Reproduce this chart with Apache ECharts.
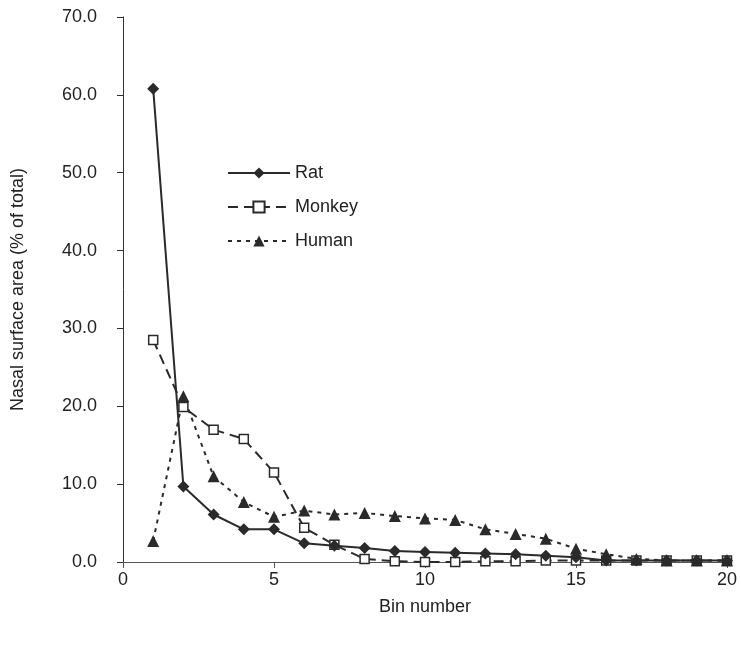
<!DOCTYPE html>
<html>
<head>
<meta charset="utf-8">
<script src="https://cdn.jsdelivr.net/npm/echarts@6/dist/echarts.min.js"></script>
<style>
  html, body { margin: 0; padding: 0; background: #fff; }
  #chart { width: 741px; height: 645px; }
</style>
</head>
<body>
<div id="chart"></div>
<script>
// bin numbers 1..20 and % of total nasal surface per bin
const bins = [1, 2, 3, 4, 5, 6, 7, 8, 9, 10, 11, 12, 13, 14, 15, 16, 17, 18, 19, 20]
const rat = [60.8, 9.7, 6.1, 4.2, 4.2, 2.4, 2.1, 1.8, 1.4, 1.3, 1.2, 1.1, 1.0, 0.8, 0.6, 0.2, 0.2, 0.2, 0.2, 0.2]
const monkey = [28.5, 19.9, 17.0, 15.8, 11.5, 4.4, 2.2, 0.4, 0.1, 0.0, 0.0, 0.1, 0.1, 0.2, 0.2, 0.2, 0.2, 0.2, 0.2, 0.2]
const human = [2.7, 21.3, 11.0, 7.7, 5.8, 6.6, 6.1, 6.3, 5.9, 5.6, 5.4, 4.2, 3.6, 3.0, 1.7, 1.0, 0.4, 0.2, 0.2, 0.2]
const xTicks = [0, 5, 10, 15, 20]
const yTicks = [0, 10, 20, 30, 40, 50, 60, 70]

const font = 'Liberation Sans, Arial, sans-serif'
const ink = '#222'

function pairs(vals) {
  return bins.map((b, i) => [b, vals[i]])
}

let chart = echarts.init(document.getElementById('chart'))
let option = {
  backgroundColor: '#fff',
  animation: false,
  grid: { left: 123, right: 14, top: 17, bottom: 83 },
  legend: {
    orient: 'vertical',
    left: 222,
    top: 159,
    itemWidth: 62,
    itemHeight: 14,
    itemGap: 16,
    textStyle: { color: ink, fontSize: 18, fontFamily: font },
    data: ['Rat', 'Monkey', 'Human']
  },
  xAxis: {
    type: 'value',
    min: xTicks[0],
    max: xTicks[xTicks.length - 1],
    interval: 5,
    name: 'Bin number',
    nameLocation: 'middle',
    nameGap: 36,
    nameTextStyle: { color: ink, fontSize: 18, fontFamily: font },
    axisLine: { lineStyle: { color: '#555', width: 1 } },
    axisTick: { show: true, length: 6, lineStyle: { color: '#555' } },
    axisLabel: { color: ink, fontSize: 18, fontFamily: font, margin: 9 },
    splitLine: { show: false }
  },
  yAxis: {
    type: 'value',
    min: yTicks[0],
    max: yTicks[yTicks.length - 1],
    interval: 10,
    name: 'Nasal surface area (% of total)',
    nameLocation: 'middle',
    nameGap: 96,
    nameTextStyle: { color: ink, fontSize: 18, fontFamily: font },
    axisLine: { show: true, lineStyle: { color: '#333', width: 1 } },
    axisTick: { show: true, length: 6, lineStyle: { color: '#333' } },
    axisLabel: { color: ink, fontSize: 18, fontFamily: font, margin: 26, formatter: v => v.toFixed(1) },
    splitLine: { show: false }
  },
  series: [
    {
      name: 'Rat',
      type: 'line',
      data: pairs(rat),
      symbol: 'diamond',
      symbolSize: 12,
      itemStyle: { color: '#2a2a2a' },
      lineStyle: { color: '#2a2a2a', width: 2, type: 'solid' },
      z: 3
    },
    {
      name: 'Monkey',
      type: 'line',
      data: pairs(monkey),
      symbol: 'rect',
      symbolSize: 9,
      itemStyle: { color: '#fff', borderColor: '#2a2a2a', borderWidth: 1.5 },
      lineStyle: { color: '#2a2a2a', width: 2, type: [10, 6] },
      z: 2
    },
    {
      name: 'Human',
      type: 'line',
      data: pairs(human),
      symbol: 'triangle',
      symbolSize: 12,
      itemStyle: { color: '#2a2a2a' },
      lineStyle: { color: '#2a2a2a', width: 2, type: [4, 5] },
      z: 2
    }
  ]
}
chart.setOption(option)
</script>
</body>
</html>
